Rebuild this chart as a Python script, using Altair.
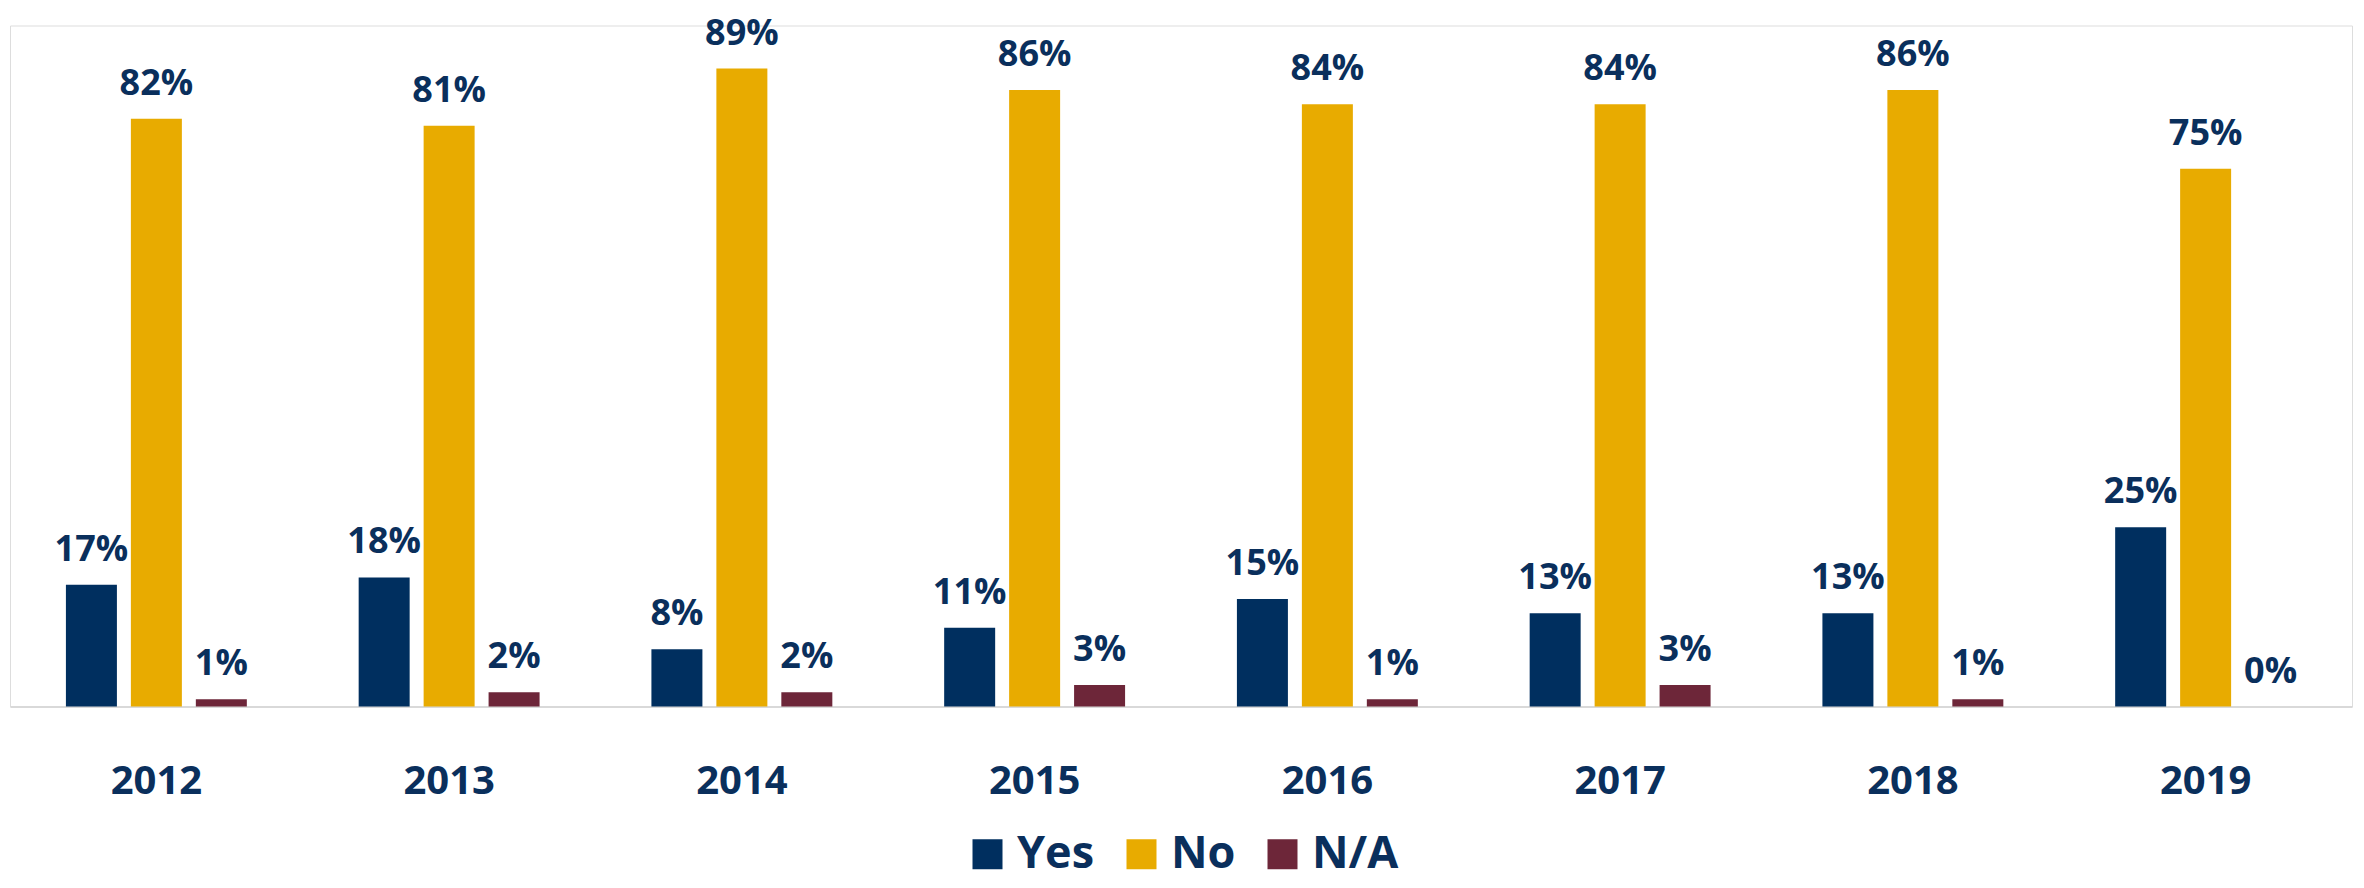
import altair as alt
import pandas as pd

years = ["2012", "2013", "2014", "2015", "2016", "2017", "2018", "2019"]
yes_vals = [17, 18, 8, 11, 15, 13, 13, 25]
no_vals = [82, 81, 89, 86, 84, 84, 86, 75]
na_vals = [1, 2, 2, 3, 1, 3, 1, 0]
series = ["Yes", "No", "N/A"]
colors = ["#002F5F", "#E8AB00", "#6D2639"]

NAVY = "#0A2F5C"
FONT = "Open Sans"

rows = []
for i, yr in enumerate(years):
    for s, vals in zip(series, [yes_vals, no_vals, na_vals]):
        rows.append({"year": yr, "answer": s, "value": vals[i], "label": f"{vals[i]}%"})
df = pd.DataFrame(rows)

base = alt.Chart(df).encode(
    x=alt.X(
        "year:N",
        sort=years,
        scale=alt.Scale(paddingInner=0.382, paddingOuter=0.191),
        axis=alt.Axis(
            title=None,
            labelAngle=0,
            ticks=False,
            grid=False,
            domainColor="#D9D9D9",
            domainWidth=2,
            labelFont=FONT,
            labelFontWeight="bold",
            labelFontSize=40,
            labelColor=NAVY,
            labelPadding=55,
        ),
    ),
    xOffset=alt.XOffset(
        "answer:N", sort=series, scale=alt.Scale(paddingInner=0.215, paddingOuter=0)
    ),
    y=alt.Y("value:Q", scale=alt.Scale(domain=[0, 95]), axis=None),
)

bars = base.mark_bar().encode(
    color=alt.Color(
        "answer:N",
        sort=series,
        scale=alt.Scale(domain=series, range=colors),
        legend=alt.Legend(
            title=None,
            orient="none",
            legendX=955,
            legendY=806,
            direction="horizontal",
            symbolType="square",
            symbolSize=900,
            symbolStrokeWidth=0,
            symbolOpacity=1,
            labelFont=FONT,
            labelFontWeight="bold",
            labelFontSize=45,
            labelColor=NAVY,
            labelOffset=7,
            columnPadding=24,
        ),
    )
)

labels = base.mark_text(
    font=FONT,
    fontWeight="bold",
    fontSize=36,
    color=NAVY,
    baseline="alphabetic",
    dy=-24,
).encode(text="label:N")

chart = (
    alt.layer(bars, labels)
    .properties(
        width=2342,
        height=681,
        autosize=alt.AutoSizeParams(type="none"),
        padding={"left": 2, "top": 17.5, "right": 2, "bottom": 173.5},
    )
    .configure_view(stroke=None)
    .configure(background="white")
)

chart.save("out.html", embed_options={"renderer": "svg", "actions": False})
